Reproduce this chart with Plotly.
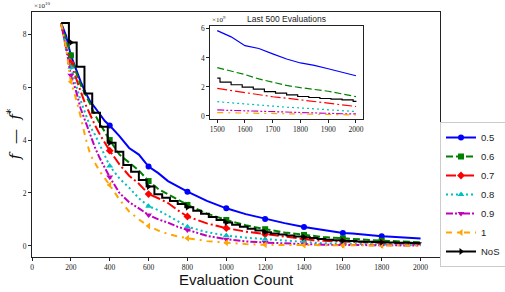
import plotly.graph_objects as go

# ---------------- data (values in units of 1e10) ----------------
evals = [150, 175, 200, 225, 250, 275, 300, 325, 350, 375, 400, 450, 500, 550, 600,
         650, 700, 750, 800, 900, 1000, 1100, 1200, 1300, 1400, 1450, 1500, 1550,
         1600, 1650, 1700, 1750, 1800, 1850, 1900, 1950, 2000]

s05 = [8.42, 7.95, 7.20, 6.70, 6.22, 5.80, 5.45, 5.22, 4.98, 4.72, 4.55, 4.15, 3.70, 3.45, 3.00,
       2.75, 2.45, 2.25, 2.05, 1.70, 1.42, 1.20, 1.02, 0.86, 0.71, 0.65, 0.588, 0.545,
       0.484, 0.465, 0.428, 0.392, 0.365, 0.348, 0.325, 0.300, 0.277]
s06 = [8.42, 7.80, 7.20, 6.60, 6.10, 5.75, 5.35, 4.94, 4.60, 4.30, 4.00, 3.45, 3.15, 2.85, 2.45,
       2.15, 1.95, 1.75, 1.55, 1.22, 0.98, 0.78, 0.63, 0.51, 0.415, 0.37, 0.333, 0.310,
       0.285, 0.255, 0.230, 0.210, 0.195, 0.185, 0.170, 0.152, 0.133]
s07 = [8.40, 7.50, 6.90, 6.35, 5.85, 5.35, 4.92, 4.55, 4.20, 3.90, 3.60, 3.08, 2.65, 2.35, 1.96,
       1.80, 1.62, 1.35, 1.11, 0.85, 0.67, 0.54, 0.44, 0.34, 0.26, 0.215, 0.190, 0.175,
       0.162, 0.145, 0.132, 0.122, 0.110, 0.102, 0.088, 0.077, 0.065]
s08 = [8.40, 7.40, 6.75, 6.15, 5.50, 5.00, 4.50, 4.19, 3.80, 3.40, 3.02, 2.55, 2.20, 1.80, 1.50,
       1.35, 1.15, 0.92, 0.72, 0.52, 0.39, 0.31, 0.25, 0.19, 0.15, 0.12, 0.098, 0.090,
       0.083, 0.075, 0.068, 0.060, 0.055, 0.048, 0.040, 0.035, 0.030]
s09 = [8.40, 7.50, 6.45, 5.90, 5.20, 4.70, 4.20, 3.70, 3.30, 2.95, 2.60, 2.00, 1.65, 1.42, 1.17,
       1.00, 0.88, 0.72, 0.60, 0.38, 0.25, 0.17, 0.125, 0.09, 0.065, 0.05, 0.041, 0.038,
       0.034, 0.030, 0.027, 0.024, 0.021, 0.019, 0.017, 0.015, 0.014]
s10 = [8.40, 7.50, 6.20, 5.60, 4.90, 4.10, 3.45, 3.10, 2.80, 2.55, 2.30, 1.75, 1.30, 1.00, 0.75,
       0.58, 0.45, 0.36, 0.29, 0.18, 0.12, 0.07, 0.04, 0.033, 0.028, 0.025, 0.023, 0.021,
       0.019, 0.017, 0.015, 0.013, 0.012, 0.010, 0.009, 0.008, 0.007]

nos_evals = [150, 190, 230, 270, 310, 350, 390, 430, 470, 510, 550, 590, 630, 670, 710, 750,
             790, 830, 870, 910, 950, 990, 1030, 1070, 1110, 1150, 1190, 1230, 1270, 1310,
             1350, 1390, 1430, 1470, 1510, 1550, 1590, 1630, 1670, 1710, 1750, 1790, 1830,
             1870, 1910, 1950, 1990, 2000]
nos_vals = [8.42, 7.69, 6.77, 5.76, 5.03, 4.50, 3.90, 3.56, 3.06, 2.80, 2.49, 2.24, 1.95, 1.82,
            1.70, 1.58, 1.46, 1.33, 1.21, 1.09, 0.98, 0.88, 0.80, 0.72, 0.65, 0.58, 0.52, 0.47,
            0.43, 0.39, 0.355, 0.33, 0.30, 0.261, 0.233, 0.215, 0.198, 0.185, 0.168, 0.157,
            0.145, 0.134, 0.127, 0.120, 0.116, 0.110, 0.100, 0.098]

mark_at = [200, 400, 600, 800, 1000, 1200, 1400, 1600, 1800]
inset_start = 1500

labels = ["0.5", "0.6", "0.7", "0.8", "0.9", "1"]
colors = ["#0000ff", "#008000", "#ff0000", "#00bfbf", "#bf00bf", "#ffa500"]
dashes = ["solid", "7px,3px", "10px,3px,2px,3px", "2px,3px", "7px,2px,2px,2px,2px,2px", "6px,5px,2px,5px"]
symbols = ["circle", "square", "diamond", "triangle-up", "triangle-down", "triangle-left"]
series = [s05, s06, s07, s08, s09, s10]

fig = go.Figure()

for lab, col, dsh, sym, vals in zip(labels, colors, dashes, symbols, series):
    fig.add_trace(go.Scatter(x=evals, y=vals, mode="lines", line=dict(color=col, width=2, dash=dsh),
                             showlegend=False, xaxis="x", yaxis="y"))
    mx = [e for e in evals if e in mark_at]
    my = [v for e, v in zip(evals, vals) if e in mark_at]
    fig.add_trace(go.Scatter(x=mx, y=my, mode="markers", marker=dict(color=col, symbol=sym, size=6),
                             showlegend=False, xaxis="x", yaxis="y"))
    ix = [e for e in evals if e >= inset_start]
    iy = [v * 10 for e, v in zip(evals, vals) if e >= inset_start]
    fig.add_trace(go.Scatter(x=ix, y=iy, mode="lines", line=dict(color=col, width=1.2, dash=dsh),
                             showlegend=False, xaxis="x2", yaxis="y2"))
    fig.add_trace(go.Scatter(x=[None], y=[None], mode="lines+markers", name=lab,
                             line=dict(color=col, width=2, dash=dsh),
                             marker=dict(color=col, symbol=sym, size=6)))

fig.add_trace(go.Scatter(x=nos_evals, y=nos_vals, mode="lines", line=dict(color="black", width=2, shape="hv"),
                         showlegend=False, xaxis="x", yaxis="y"))
nmx, nmy = [], []
for m in mark_at:
    cur = None
    for e, v in zip(nos_evals, nos_vals):
        if e <= m:
            cur = v
    nmx.append(m)
    nmy.append(cur)
fig.add_trace(go.Scatter(x=nmx, y=nmy, mode="markers", marker=dict(color="black", symbol="triangle-right", size=6),
                         showlegend=False, xaxis="x", yaxis="y"))
inx, iny = [], []
prev = None
for e, v in zip(nos_evals, nos_vals):
    if e < inset_start:
        prev = v
    else:
        if not inx and prev is not None:
            inx.append(inset_start)
            iny.append(prev * 10)
        inx.append(e)
        iny.append(v * 10)
fig.add_trace(go.Scatter(x=inx, y=iny, mode="lines", line=dict(color="black", width=1.2, shape="hv"),
                         showlegend=False, xaxis="x2", yaxis="y2"))
fig.add_trace(go.Scatter(x=[None], y=[None], mode="lines+markers", name="NoS",
                         line=dict(color="black", width=2),
                         marker=dict(color="black", symbol="triangle-right", size=6)))

tickfont = dict(family="Liberation Serif", size=7.5, color="#222")
axis_common = dict(showline=True, linecolor="#222", linewidth=1, mirror=True, ticks="outside",
                   ticklen=3, tickwidth=0.8, tickcolor="#222", showgrid=False, zeroline=False,
                   tickfont=tickfont, automargin=False)

fig.update_layout(
    width=505, height=292,
    margin=dict(l=32, r=65, t=12, b=35, autoexpand=False),
    paper_bgcolor="white", plot_bgcolor="white",
    xaxis=dict(domain=[0, 1], range=[0, 2100], tickvals=list(range(0, 2001, 200)), **axis_common),
    yaxis=dict(domain=[0, 1], range=[-0.42, 8.84], tickvals=[0, 2, 4, 6, 8], **axis_common),
    xaxis2=dict(domain=[0.437, 0.811], anchor="y2", range=[1475, 2025],
                tickvals=list(range(1500, 2001, 100)), **axis_common),
    yaxis2=dict(domain=[0.564, 0.943], anchor="x2", range=[-0.2, 6.2], tickvals=[0, 2, 4, 6], **axis_common),
    legend=dict(x=1.0, y=0.551, xanchor="left", yanchor="top",
                font=dict(family="Liberation Sans", size=9.5, color="#222"),
                bordercolor="#cccccc", borderwidth=1, bgcolor="white", itemwidth=30,
                tracegroupgap=0),
    showlegend=True,
)

fig.add_annotation(text="×10<sup>10</sup>", xref="paper", yref="paper", x=0, y=1, xanchor="left",
                   yanchor="bottom", showarrow=False, font=dict(family="Liberation Serif", size=7, color="#222"))
fig.add_annotation(text="×10<sup>9</sup>", xref="x2 domain", yref="y2 domain", x=0, y=1, xanchor="left",
                   yanchor="bottom", showarrow=False, font=dict(family="Liberation Serif", size=7, color="#222"))
fig.add_annotation(text="Last 500 Evaluations", xref="x2 domain", yref="y2 domain", x=0.5, y=1.0,
                   xanchor="center", yanchor="bottom", showarrow=False,
                   font=dict(family="Liberation Sans", size=8.5, color="#222"))
fig.add_annotation(text="Evaluation Count", xref="paper", yref="paper", x=0.5, y=-0.093,
                   xanchor="center", yanchor="middle", showarrow=False,
                   font=dict(family="Liberation Sans", size=15, color="#111"))
fig.add_annotation(text="<i>f</i>  —  <i>f</i><sup>*</sup>", xref="paper", yref="paper", x=-0.045, y=0.5,
                   xanchor="center", yanchor="middle", textangle=-90, showarrow=False,
                   font=dict(family="DejaVu Serif", size=15, color="#111"))

# remove the default 8px page margin so the figure sits at the window's top-left corner
fig.write_html("out.html", config={"displayModeBar": False},
               post_script="document.body.style.margin='0px';")
